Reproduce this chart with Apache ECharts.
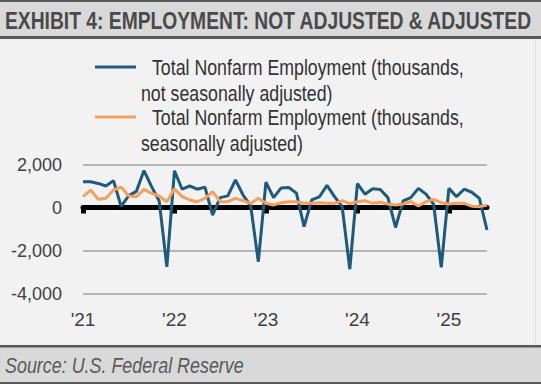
<!DOCTYPE html>
<html>
<head>
<meta charset="utf-8">
<script src="https://cdn.jsdelivr.net/npm/echarts@6/dist/echarts.min.js"></script>
<style>
html,body{margin:0;padding:0;background:#f2f2f2;}
#chart{width:541px;height:384px;}
</style>
</head>
<body>
<div id="chart"></div>
<script>
// Months Jan 2021 .. Jun 2025
const months = [];
for (let y = 2021; y <= 2025; y++) {
  for (let m = 1; m <= 12; m++) {
    if (y === 2025 && m > 6) break;
    months.push(y + '-' + (m < 10 ? '0' + m : m));
  }
}
const yearLabels = ["'21", "'22", "'23", "'24", "'25"];

const notAdjusted = [
  1200, 1200, 1120, 1000, 1250, 50, 550, 750, 1720, 970, 300, -2760,
  1710, 850, 1000, 850, 950, -350, 460, 540, 1280, 580, 80, -2520,
  1180, 460, 910, 930, 670, -891, 350, 490, 1030, 504, 37, -2870,
  1110, 620, 870, 840, 460, -930, 310, 460, 890, 620, 150, -2780,
  890, 504, 850, 710, 426, -1046
];
const adjusted = [
  500, 814, 380, 426, 814, 950, 535, 500, 845, 659, 535, 270,
  870, 504, 349, 271, 426, 736, 271, 271, 426, 318, 194, 426,
  194, 116, 225, 271, 271, 194, 194, 225, 194, 194, 318, 180,
  271, 318, 194, 240, 163, 116, 163, 271, 70, 271, 380, 225,
  163, 194, 194, 60, 40, 100
];
const yTicks = [-4000, -2000, 0, 2000];
const titleText = 'EXHIBIT 4: EMPLOYMENT: NOT ADJUSTED & ADJUSTED';
const sourceText = 'Source: U.S. Federal Reserve';
const legendLines = [
  ['Total Nonfarm Employment (thousands,', 'not seasonally adjusted)'],
  ['Total Nonfarm Employment (thousands,', 'seasonally adjusted)']
];
const colors = ['#1c5a7e', '#f4a05e'];

const FONT = "'Liberation Sans', Arial, sans-serif";
const ctx = document.createElement('canvas').getContext('2d');
function measure(font, text) { ctx.font = font; return ctx.measureText(text).width; }

const titleFont = "bold 24px 'Liberation Sans', Arial, sans-serif";
const titleScale = 528 / measure(titleFont, titleText);
const sourceFont = "italic 22px 'Liberation Sans', Arial, sans-serif";
const sourceScale = 239 / measure(sourceFont, sourceText);
const legendFont = "22px 'Liberation Sans', Arial, sans-serif";
const legendScale = 312 / measure(legendFont, legendLines[0][0]);

const isJan = (i, v) => typeof v === 'string' ? v.slice(5) === '01' : months[i].slice(5) === '01';

const legendGraphics = [];
const legendY = [67, 117];
legendLines.forEach((lines, k) => {
  const y0 = legendY[k];
  legendGraphics.push({type: 'rect', shape: {x: 95, y: y0 - 1.5, width: 41, height: 3}, style: {fill: colors[k]}});
  legendGraphics.push({type: 'text', x: 152, y: y0, scaleX: legendScale,
    style: {text: lines[0], font: legendFont, fill: '#333333', verticalAlign: 'middle', align: 'left'}});
  legendGraphics.push({type: 'text', x: 141, y: y0 + 26.5, scaleX: legendScale,
    style: {text: lines[1], font: legendFont, fill: '#333333', verticalAlign: 'middle', align: 'left'}});
});

const chart = echarts.init(document.getElementById('chart'), null, {renderer: 'svg'});
chart.setOption({
  backgroundColor: '#f2f2f2',
  animation: false,
  graphic: [
    {type: 'rect', shape: {x: 0, y: 0, width: 541, height: 38}, style: {fill: '#d9d9d9'}, z: -10},
    {type: 'rect', shape: {x: 0, y: 0, width: 541, height: 2}, style: {fill: '#595959'}, z: -9},
    {type: 'rect', shape: {x: 0, y: 36, width: 541, height: 3}, style: {fill: '#595959'}, z: -9},
    {type: 'rect', shape: {x: 0, y: 345, width: 541, height: 39}, style: {fill: '#d9d9d9'}, z: -10},
    {type: 'rect', shape: {x: 0, y: 345, width: 541, height: 2.5}, style: {fill: '#595959'}, z: -9},
    {type: 'rect', shape: {x: 0, y: 382, width: 541, height: 2}, style: {fill: '#595959'}, z: -9},
    {type: 'rect', shape: {x: 535, y: 39, width: 1, height: 306}, style: {fill: '#e2e2e2'}, z: -9},
    {type: 'text', x: 5, y: 20.5, scaleX: titleScale,
      style: {text: titleText, font: titleFont, fill: '#4a4a4a', verticalAlign: 'middle', align: 'left'}},
    {type: 'text', x: 5, y: 365, scaleX: sourceScale,
      style: {text: sourceText, font: sourceFont, fill: '#595959', verticalAlign: 'middle', align: 'left'}}
  ].concat(legendGraphics),
  grid: {left: 83, right: 54, top: 164.5, bottom: 90.5, containLabel: false},
  xAxis: [
    {
      type: 'category', data: months, boundaryGap: false, position: 'bottom',
      axisLine: {show: false, onZero: false}, axisTick: {show: false}, splitLine: {show: false},
      axisLabel: {
        interval: isJan, margin: 16,
        formatter: v => yearLabels[parseInt(v.slice(0, 4)) - 2021],
        fontFamily: FONT, fontSize: 19, color: '#404040'
      }
    },
    {
      type: 'category', data: months, boundaryGap: false, position: 'bottom',
      axisLine: {show: true, onZero: true, lineStyle: {color: '#000', width: 5}},
      axisTick: {show: true, interval: isJan, length: 6, lineStyle: {color: '#000', width: 5}},
      axisLabel: {show: false}, splitLine: {show: false}
    }
  ],
  yAxis: {
    type: 'value', min: -4000, max: 2000, interval: 2000,
    axisLine: {show: false}, axisTick: {show: false},
    splitLine: {lineStyle: {color: '#a0a0a0', width: 1.5}},
    axisLabel: {
      margin: 21, fontFamily: FONT, fontSize: 18, color: '#404040',
      formatter: v => yTicks.indexOf(v) >= 0 ? v.toLocaleString('en-US') : ''
    }
  },
  series: [
    {
      name: legendLines[0].join(' '), type: 'line', data: notAdjusted, xAxisIndex: 0, showSymbol: false, symbol: 'none',
      lineStyle: {color: colors[0], width: 3}, itemStyle: {color: colors[0]}, z: 3
    },
    {
      name: legendLines[1].join(' '), type: 'line', data: adjusted, xAxisIndex: 0, showSymbol: false, symbol: 'none',
      lineStyle: {color: colors[1], width: 3}, itemStyle: {color: colors[1]}, z: 4
    }
  ]
});
</script>
</body>
</html>
